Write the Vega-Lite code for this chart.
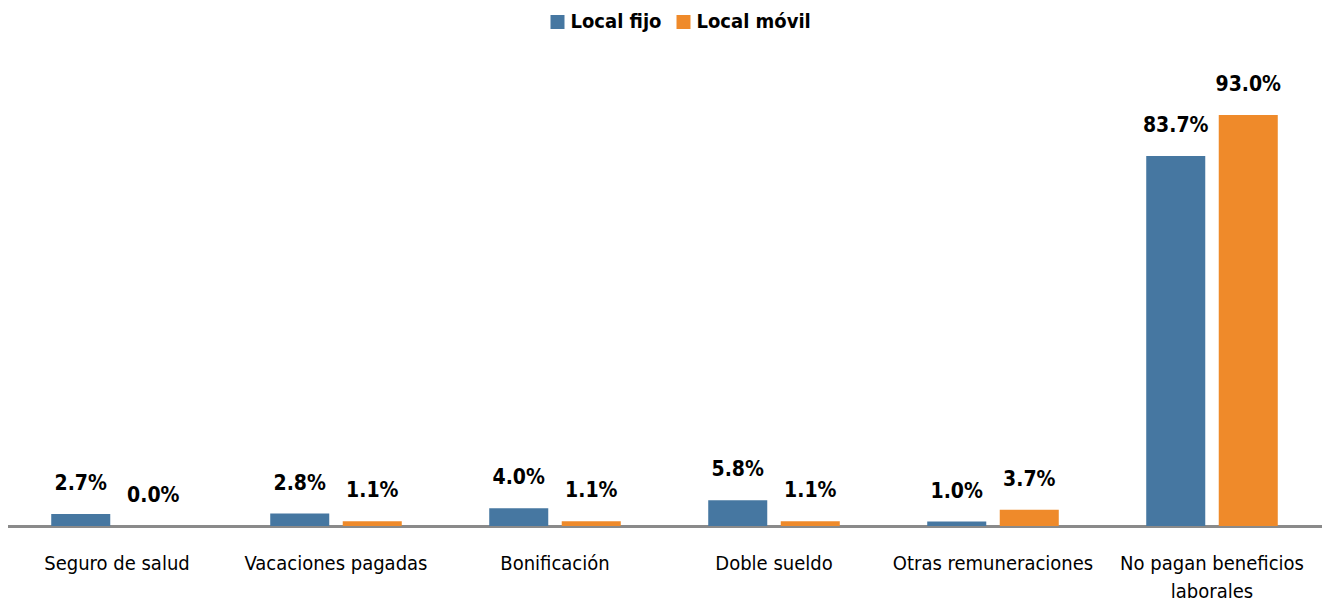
{
  "$schema": "https://vega.github.io/schema/vega-lite/v6.json",
  "width": 1314,
  "height": 442,
  "autosize": {"type": "none"},
  "padding": {"left": 7.5, "top": 84, "right": 11.5, "bottom": 84},
  "background": "white",
  "config": {
    "view": {"stroke": null},
    "font": "Liberation Sans Narrow, DejaVu Sans Condensed, sans-serif"
  },
  "data": {
    "values": [
      {"categoria": "Seguro de salud", "serie": "Local fijo", "valor": 2.7},
      {"categoria": "Seguro de salud", "serie": "Local móvil", "valor": 0.0},
      {"categoria": "Vacaciones pagadas", "serie": "Local fijo", "valor": 2.8},
      {"categoria": "Vacaciones pagadas", "serie": "Local móvil", "valor": 1.1},
      {"categoria": "Bonificación", "serie": "Local fijo", "valor": 4.0},
      {"categoria": "Bonificación", "serie": "Local móvil", "valor": 1.1},
      {"categoria": "Doble sueldo", "serie": "Local fijo", "valor": 5.8},
      {"categoria": "Doble sueldo", "serie": "Local móvil", "valor": 1.1},
      {"categoria": "Otras remuneraciones", "serie": "Local fijo", "valor": 1.0},
      {"categoria": "Otras remuneraciones", "serie": "Local móvil", "valor": 3.7},
      {"categoria": "No pagan beneficios laborales", "serie": "Local fijo", "valor": 83.7},
      {"categoria": "No pagan beneficios laborales", "serie": "Local móvil", "valor": 93.0}
    ]
  },
  "encoding": {
    "x": {
      "field": "categoria",
      "type": "nominal",
      "sort": null,
      "scale": {"paddingInner": 0, "paddingOuter": 0},
      "axis": {
        "title": null,
        "labelAngle": 0,
        "ticks": false,
        "domainColor": "#8a8a8a",
        "domainWidth": 3,
        "labelFont": "Liberation Sans Narrow, DejaVu Sans Condensed, sans-serif",
        "labelFontSize": 20,
        "labelColor": "#000000",
        "labelPadding": 27,
        "labelLineHeight": 28,
        "labelLimit": 300,
        "labelExpr": "datum.value == 'No pagan beneficios laborales' ? ['No pagan beneficios', 'laborales'] : datum.value"
      }
    },
    "xOffset": {
      "field": "serie",
      "type": "nominal",
      "scale": {"paddingInner": 0.186, "paddingOuter": 0.603}
    },
    "y": {
      "field": "valor",
      "type": "quantitative",
      "scale": {"domain": [0, 100], "nice": false},
      "axis": null
    }
  },
  "layer": [
    {
      "mark": {"type": "bar"},
      "encoding": {
        "color": {
          "field": "serie",
          "type": "nominal",
          "scale": {"domain": ["Local fijo", "Local móvil"], "range": ["#4677A1", "#EF8A2A"]},
          "legend": {
            "title": null,
            "orient": "none",
            "direction": "horizontal",
            "legendX": 540,
            "legendY": -72,
            "symbolType": "square",
            "symbolSize": 196,
            "symbolStrokeWidth": 0,
            "symbolOpacity": 1,
            "labelFont": "Liberation Sans Narrow, DejaVu Sans Condensed, sans-serif",
            "labelFontSize": 20,
            "labelFontWeight": "bold",
            "labelColor": "#000000",
            "labelOffset": 3,
            "columnPadding": 12
          }
        }
      }
    },
    {
      "mark": {
        "type": "text",
        "baseline": "middle",
        "align": "center",
        "dy": -30,
        "fontSize": 21,
        "fontWeight": "bold",
        "color": "#000000",
        "text": {"expr": "format(datum.valor, '.1f') + '%'"}
      },
      "encoding": {
        "detail": {"field": "serie"}
      }
    }
  ]
}
